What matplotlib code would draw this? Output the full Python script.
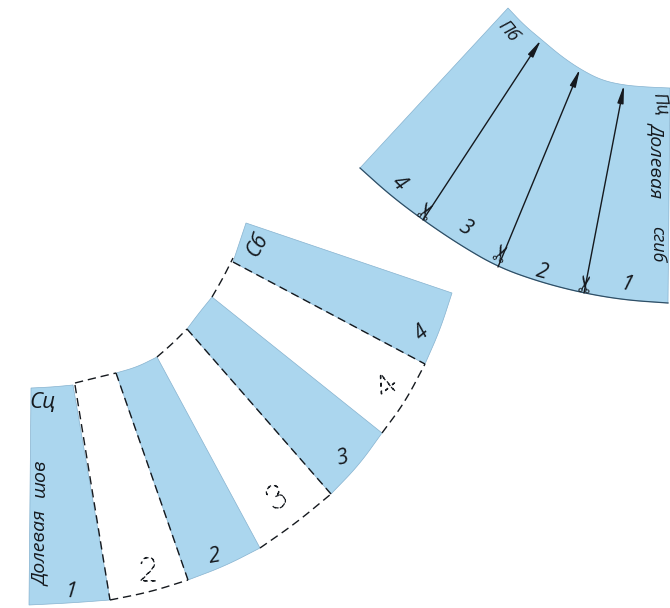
import matplotlib
matplotlib.use('Agg')
import matplotlib.pyplot as plt
from matplotlib.patches import Polygon
from matplotlib.patheffects import AbstractPathEffect


# paper pieces in pixels
top_upper_arc = [(508, 8), (524, 25), (542, 40), (561, 56), (580, 69), (601, 80), (623, 85), (646, 87), (670, 88)]
top_lower_arc = [(668, 303), (625, 300), (583, 293), (540, 282), (498, 267), (460, 245), (423, 220), (390, 195), (360, 168)]
side_1_top = [(31, 388), (52, 387), (73, 385)]
side_1_bottom = [(110, 600), (70, 603), (29, 605)]
side_2_top = [(116, 373), (137, 367), (157, 357)]
side_2_bottom = [(260, 548), (225, 566), (188, 580)]
side_3_top = [(212, 297), (199, 313), (187, 329)]
side_3_bottom = [(331, 494), (359, 465), (382, 433)]
side_4_top = [(246, 223), (233, 262)]
side_4_bottom = [(425, 364), (440, 330), (452, 293)]

# dashed seam lines
dash_lines = [
    [(75, 383), (95, 378), (116, 373)],
    [(75, 385), (110, 600)],
    [(110, 600), (150, 592), (188, 580)],
    [(116, 373), (188, 580)],
    [(157, 357), (172, 344), (187, 329)],
    [(187, 329), (331, 494)],
    [(260, 548), (296, 523), (331, 494)],
    [(212, 297), (223, 278), (233, 258)],
    [(233, 262), (425, 364)],
    [(382, 433), (405, 402), (425, 364)],
]

# grain line arrows (start, tip)
arrow_starts = [(423, 220), (498, 267), (584, 293)]
arrow_tips = [(541, 40), (580, 69), (624, 85)]

# scissors marks: x, y, angle
scissor_x = [428, 503, 587]
scissor_y = [210, 252, 283]
scissor_angle = [60, 65, 80]

# handwritten labels: text, x, y, angle, size
labels = [
    ('Пб', 508, 31, -50, 13), ('Пц', 660, 104, -80, 13),
    ('Долевая', 657, 160, -90, 14), ('сгиб', 657, 244, -90, 13),
    ('4', 399, 183, -45, 15), ('3', 465, 228, -30, 15), ('2', 542, 272, -15, 15), ('1', 627, 285, -15, 15),
    ('Сц', 43, 403, 0, 16), ('Долевая', 41, 548, 90, 14), ('шов', 40, 478, 90, 14),
    ('1', 71, 592, -5, 15), ('2', 215, 557, 10, 15), ('3', 343, 458, 15, 15),
    ('4', 422, 333, 40, 15), ('Сб', 258, 245, 60, 15),
]

# numbers drawn as dashed outlines on the white gaps
ghost_labels = [('2', 148, 572, 0), ('3', 277, 499, 30), ('4', 387, 387, 40)]

paper_blue = '#abd6ee'
paper_edge = '#86b2cf'
edge_dark = '#2f4f66'
ink = '#15191e'


def smooth(points, rounds=3):
    # corner cutting so the cut arcs do not look like polygons, ends stay fixed
    for _ in range(rounds):
        new_points = [points[0]]
        for a, b in zip(points[:-1], points[1:]):
            new_points.append((0.75 * a[0] + 0.25 * b[0], 0.75 * a[1] + 0.25 * b[1]))
            new_points.append((0.25 * a[0] + 0.75 * b[0], 0.25 * a[1] + 0.75 * b[1]))
        new_points.append(points[-1])
        points = new_points
    return points


class DashedOutline(AbstractPathEffect):

    def draw_path(self, renderer, gc, tpath, affine, rgbFace=None):
        gc0 = renderer.new_gc()
        gc0.copy_properties(gc)
        gc0.set_foreground(ink)
        gc0.set_linewidth(0.9)
        gc0.set_dashes(0, [2.6, 3.0])
        renderer.draw_path(gc0, tpath, affine, None)
        gc0.restore()


fig = plt.figure(figsize=(6.7, 6.08), dpi=100, facecolor='white')
ax = fig.add_axes([0, 0, 1, 1])
ax.set_xlim(0, 670)
ax.set_ylim(608, 0)
ax.axis('off')

pieces = [
    (top_upper_arc, top_lower_arc),
    (side_1_top, side_1_bottom),
    (side_2_top, side_2_bottom),
    (side_3_top, side_3_bottom),
    (side_4_top, side_4_bottom),
]
for upper, lower in pieces:
    outline = smooth(upper) + smooth(lower)
    ax.add_patch(Polygon(outline, closed=True, facecolor=paper_blue, edgecolor=paper_edge, linewidth=0.5))

# darker cut edge under the top piece
bottom_edge = smooth(top_lower_arc)
ax.plot([p[0] for p in bottom_edge], [p[1] for p in bottom_edge], color=edge_dark, lw=0.9)

for line in dash_lines:
    line = smooth(line)
    ax.plot([p[0] for p in line], [p[1] for p in line], color=ink, lw=1.0, ls=(0, (6, 3.5)))

for start, tip in zip(arrow_starts, arrow_tips):
    ax.annotate('', xy=tip, xytext=start,
                arrowprops=dict(arrowstyle='-|>,head_length=1.05,head_width=0.18', color=ink, lw=1.0,
                                shrinkA=0, shrinkB=0))

for x, y, angle in zip(scissor_x, scissor_y, scissor_angle):
    ax.text(x, y, '\u2702', fontsize=17, color=ink, rotation=angle, ha='center', va='center',
            rotation_mode='anchor', family='DejaVu Sans')

for text, x, y, angle, size in labels:
    ax.text(x, y, text, fontsize=size, color=ink, rotation=angle, ha='center', va='center',
            rotation_mode='anchor', family=['Open Sans', 'DejaVu Sans'], style='italic')

for text, x, y, angle in ghost_labels:
    ax.text(x, y, text, fontsize=24, color='white', rotation=angle, ha='center', va='center',
            rotation_mode='anchor', family=['Lato', 'DejaVu Sans'], weight='light',
            path_effects=[DashedOutline()])

fig.savefig('out.png', dpi=100, facecolor='white')
